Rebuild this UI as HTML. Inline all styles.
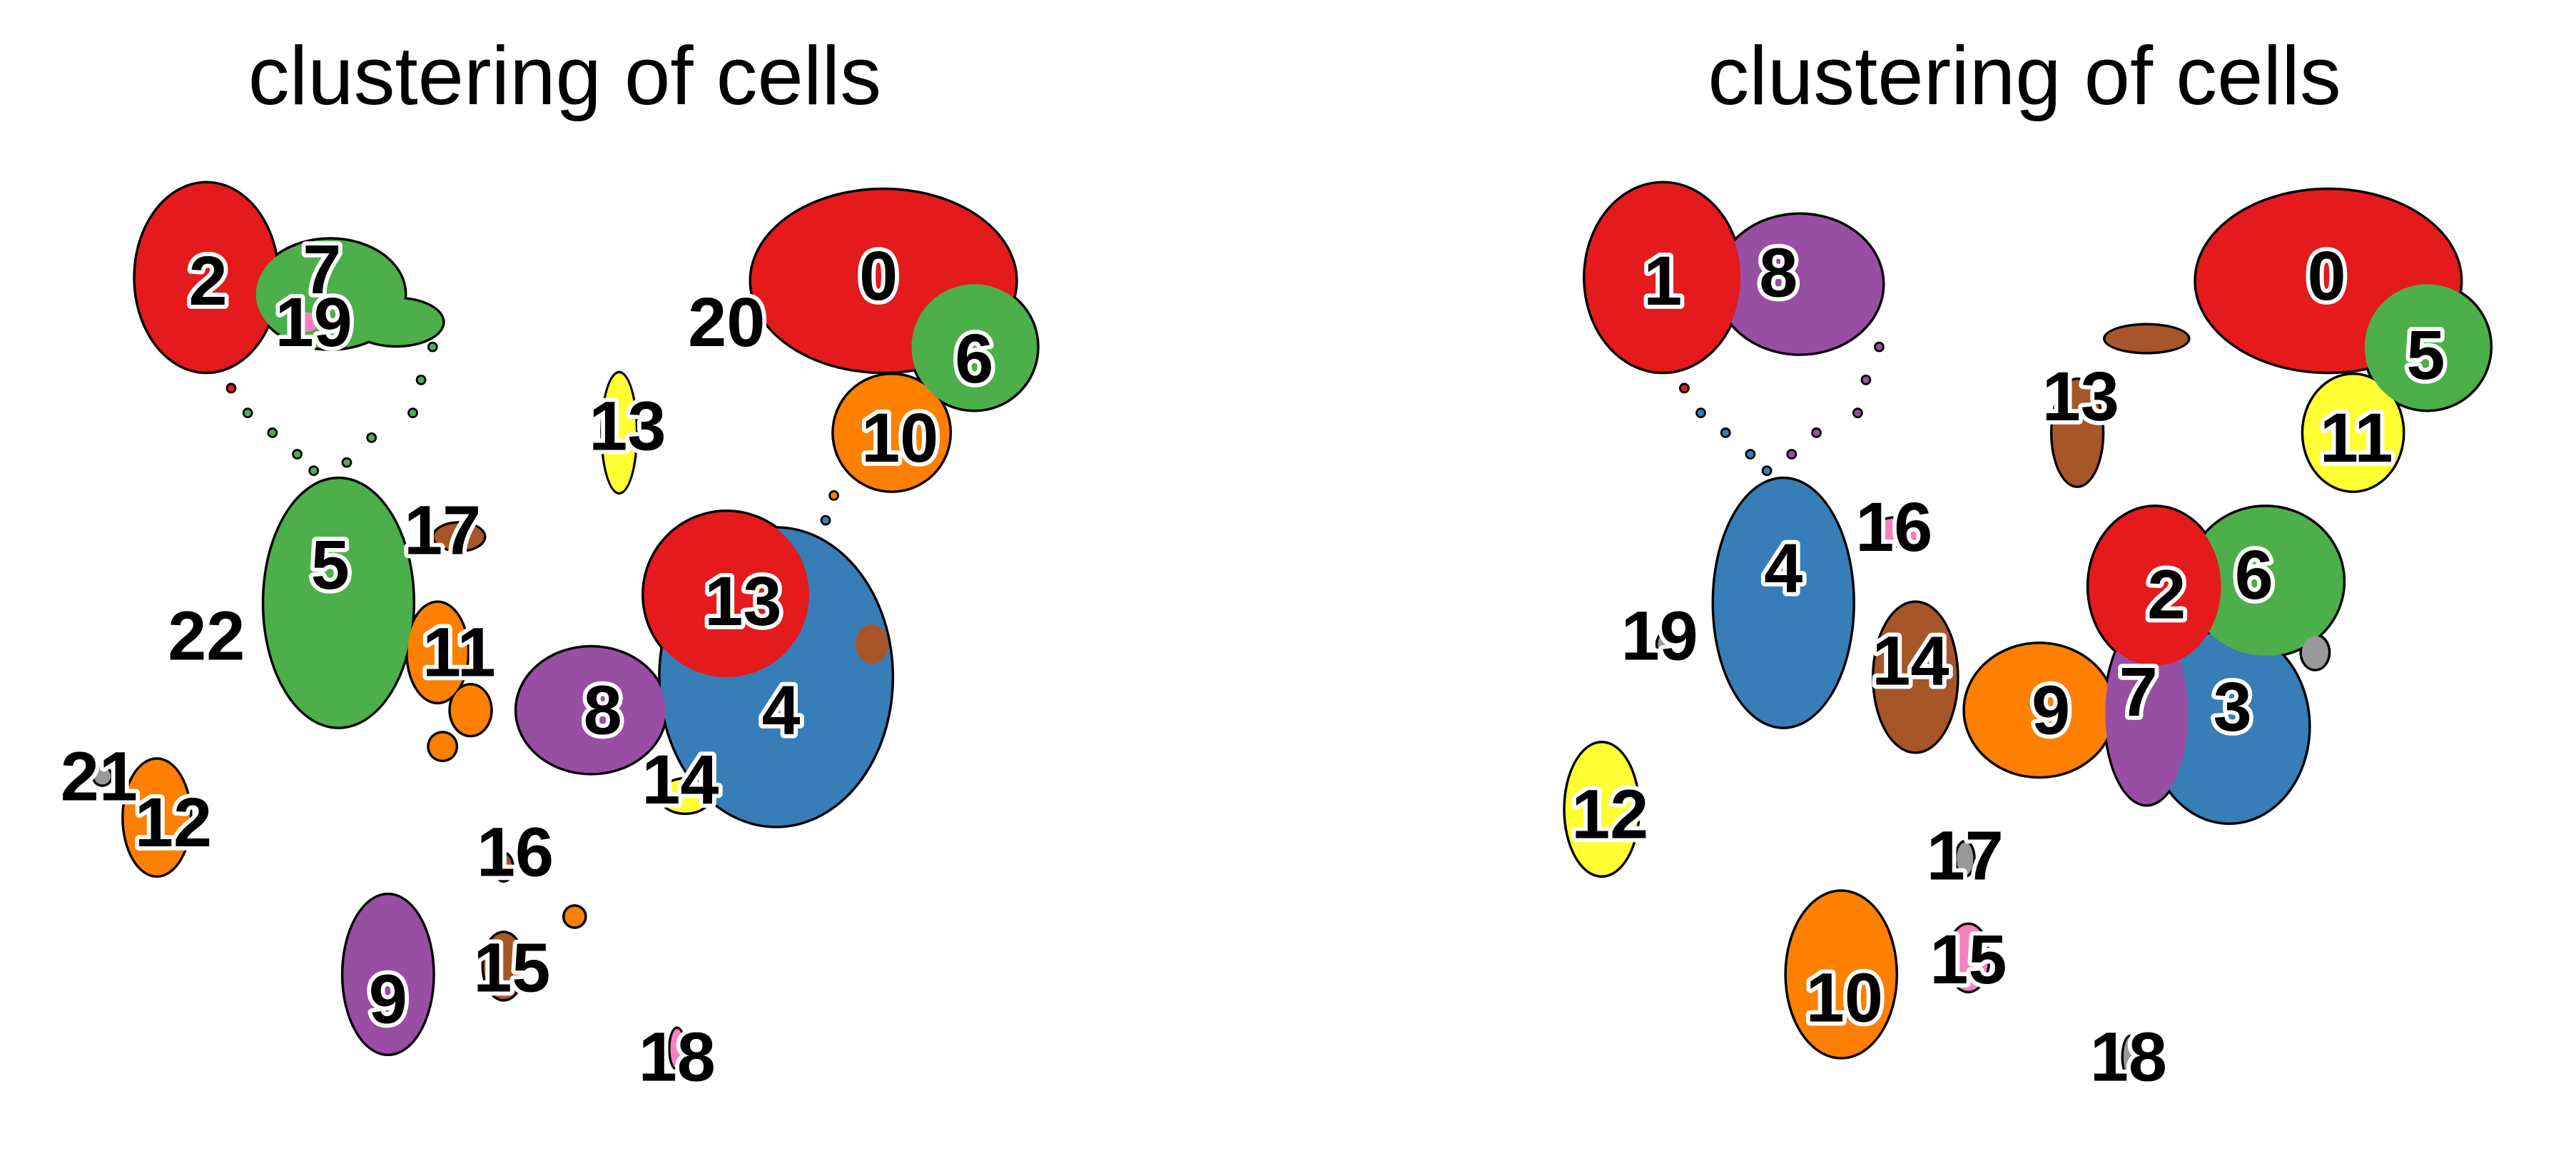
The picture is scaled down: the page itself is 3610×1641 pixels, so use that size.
<!DOCTYPE html>
<html><head><meta charset="utf-8"><style>
html,body{margin:0;padding:0;background:#fff;}
svg{display:block;}
</style></head><body>
<svg id="chart" width="3610" height="1641" viewBox="0 0 1560 709" xmlns="http://www.w3.org/2000/svg">
<rect width="1560" height="709" fill="#fff"/>
<text x="342" y="63" text-anchor="middle" font-family="Liberation Sans, sans-serif" font-size="50" fill="#000">clustering of cells</text>
<text x="1226" y="63" text-anchor="middle" font-family="Liberation Sans, sans-serif" font-size="50" fill="#000">clustering of cells</text>
<g id="left"></g>
<g id="right"></g>
</svg>
<script>
const palette = ['#e41a1c','#377eb8','#4daf4a','#984ea3','#ff7f00','#ffff33','#a65628','#f781bf','#999999'];
// Left panel: cluster labels and label positions (UMAP units)
const leftLabels = ['0','2','4','5','6','7','8','9','10','11','12','13','13','14','15','16','17','18','19','20','21','22'];
const leftLabelU1 = [53.2,12.6,47.3,20.0,59.0,19.5,36.5,23.5,54.5,27.8,10.5,38.0,45.0,41.2,31.0,31.2,26.8,41.0,19.0,44.0,6.0,12.5];
const leftLabelU2 = [53.3,53.0,27.0,35.8,48.3,53.7,27.0,9.5,43.5,30.5,20.2,44.2,33.6,22.8,11.4,18.4,37.9,6.0,50.5,50.5,23.0,31.5];
// Left panel cell groups: center u1,u2, spread r1,r2, colour index
const leftBlobU1 = [12.5,20,24,18.5,54,53.5,59,37.5,20.5,27.8,26.5,28.5,26.8,47,44,35.8,41.5,52.8,9.5,6.2,23.5,30.5,30.5,34.8,41];
const leftBlobU2 = [53.2,52.2,50.5,50.5,43.8,53,49,43.8,33.5,37.5,30.5,27,24.8,29,34,27,21.8,31,20.5,23,11,17.5,11.5,14.5,6.5];
const leftBlobR1 = [4.3,4.5,2.8,0.8,3.5,8,3.8,1,4.5,1.5,1.8,1.2,0.8,7,5,4.5,1.5,1,2,0.5,2.7,0.5,1.2,0.6,0.4];
const leftBlobR2 = [5.7,3.3,1.4,0.6,3.5,5.5,3.8,3.6,7.5,0.8,3,1.5,0.8,9,5,3.8,1,1.2,3.5,0.5,4.8,0.8,2,0.6,1.2];
const leftBlobC  = [0,2,2,7,4,0,2,5,2,6,4,4,4,1,0,3,5,6,4,8,3,6,6,4,7];
const leftDotU1 = [14,15,16.5,18,19,21,22.5,25,25.5,26.2,50.5,50];
const leftDotU2 = [46.5,45,43.8,42.5,41.5,42,43.5,45,47,49,40,38.5];
const leftDotC  = [0,2,2,2,2,2,2,2,2,2,4,1];
// Right panel
const rightLabels = ['0','1','2','3','4','5','6','7','8','9','10','11','12','13','14','15','16','17','18','19'];
const rightLabelU1 = [62.9,22.7,53.2,57.2,30.0,68.9,58.5,51.5,29.7,46.2,33.7,64.7,19.5,48.0,37.7,41.2,36.7,41.0,50.9,22.5];
const rightLabelU2 = [53.3,53.0,34.0,27.2,35.6,48.5,35.2,28.1,53.5,27.0,9.6,43.5,20.7,46.0,30.0,11.9,38.1,18.2,6.0,31.5];
const rightBlobU1 = [31,22.7,64.5,63,69,47.8,52,30,36.8,38,19,22.8,45.5,57,52,59.2,52.5,62.2,41,33.5,41.2,51];
const rightBlobU2 = [52.8,53.2,43.8,53,49,43.8,49.5,33.5,37.8,29,21,31,27,26,26.8,34.8,34.5,30.5,18,11,12,6];
const rightBlobR1 = [5,4.7,3,8,3.8,1.5,2.5,4.2,1.4,2.5,2.2,0.4,4.5,4.8,2.5,4.7,4,0.8,0.5,3.3,1.2,0.4];
const rightBlobR2 = [4.2,5.7,3.5,5.5,3.8,3.2,0.8,7.5,0.8,4.5,4,0.6,4,5.8,5.5,4.5,4.8,1,1,5,2,1.2];
const rightBlobC  = [3,0,5,0,2,6,6,1,7,6,5,8,4,1,3,2,0,8,8,4,7,8];
const rightDotU1 = [24,25,26.5,28,29,30.5,32,34.5,35,35.8];
const rightDotU2 = [46.5,45,43.8,42.5,41.5,42.5,43.8,45,47,49];
const rightDotC  = [0,1,1,1,1,3,3,3,3,3];

const NS='http://www.w3.org/2000/svg';
function sx(u,off){return off+u*10;}
function sy(v){return 700-v*10;}
function mk(tag,attrs,parent){const e=document.createElementNS(NS,tag);for(const k in attrs)e.setAttribute(k,attrs[k]);parent.appendChild(e);return e;}

function drawPanel(gid,off,bu1,bu2,br1,br2,bc,du1,du2,dc,labels,lu1,lu2){
  const g=document.getElementById(gid);
  const outline=mk('g',{},g);
  
  
  const fills=mk('g',{},g);
  
  
  for(let i=0;i<bu1.length;i++){
    const o=mk('ellipse',{cx:sx(bu1[i],off),cy:sy(bu2[i]),rx:br1[i]*10+1.5,ry:br2[i]*10+1.5,fill:'#000'},outline);
    
    
  }
  for(let i=0;i<du1.length;i++){
    const o=mk('circle',{cx:sx(du1[i],off),cy:sy(du2[i]),r:3.2,fill:'#000'},outline);
    
    
  }
  for(let i=0;i<bu1.length;i++){
    const e=mk('ellipse',{cx:sx(bu1[i],off),cy:sy(bu2[i]),rx:br1[i]*10,ry:br2[i]*10,fill:palette[bc[i]]},fills);
    
    
  }
  for(let i=0;i<du1.length;i++){
    const e=mk('circle',{cx:sx(du1[i],off),cy:sy(du2[i]),r:2,fill:palette[dc[i]]},fills);
    
    
  }
  for(let i=0;i<labels.length;i++){
    const t=mk('text',{x:sx(lu1[i],off),y:sy(lu2[i]),'text-anchor':'middle','dominant-baseline':'central','font-family':'Liberation Sans, sans-serif','font-weight':'bold','font-size':'42',fill:'#000',stroke:'#fff','stroke-width':'5','paint-order':'stroke','stroke-linejoin':'round'},g);
    t.textContent=labels[i];
    
    
  }
}
drawPanel('left',0,leftBlobU1,leftBlobU2,leftBlobR1,leftBlobR2,leftBlobC,leftDotU1,leftDotU2,leftDotC,leftLabels,leftLabelU1,leftLabelU2);
drawPanel('right',780,rightBlobU1,rightBlobU2,rightBlobR1,rightBlobR2,rightBlobC,rightDotU1,rightDotU2,rightDotC,rightLabels,rightLabelU1,rightLabelU2);
</script>
</body></html>
